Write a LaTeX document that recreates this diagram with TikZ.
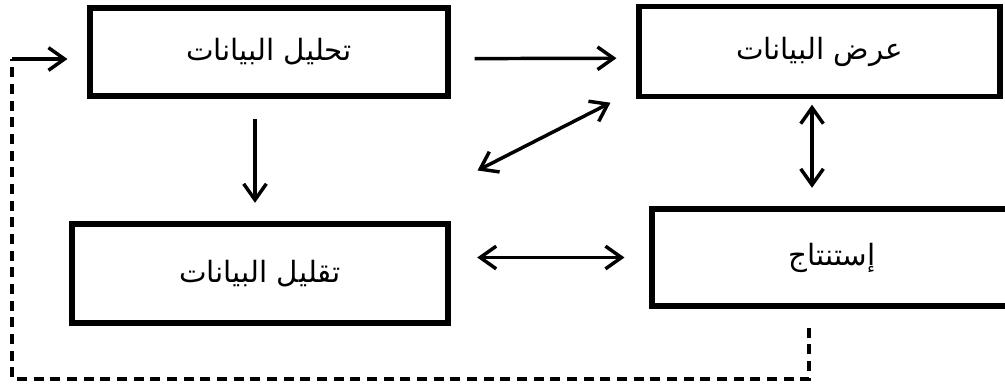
\documentclass[tikz,border=0pt]{standalone}
\usepackage{fontspec}
\usetikzlibrary{arrows.meta}
\newfontfamily\arabicfont[Script=Arabic]{DejaVu Sans}
\TeXXeTstate=1
\newcommand{\artext}[1]{{\arabicfont\beginR #1\endR}}

\begin{document}
\begin{tikzpicture}[x=0.75pt,y=-0.75pt,
    box/.style={draw,line width=3.8pt,inner sep=0pt,font=\fontsize{22}{26}\selectfont},
    arr/.style={line width=2.6pt,-{Straight Barb[length=12pt,width=17pt]}},
    dbl/.style={line width=2.6pt,{Straight Barb[length=12pt,width=17pt]}-{Straight Barb[length=12pt,width=17pt]}},
    fbdash/.style={line width=2.5pt,dash pattern=on 7.5pt off 5pt}]
    \useasboundingbox (0,0) rectangle (1005,383);
    \node[box,minimum width=268.5pt,minimum height=66pt] (tahlil) at (269,52) {\artext{تحليل البيانات}};
    \node[box,minimum width=270.75pt,minimum height=67pt] (ard) at (819.5,51.5) {\artext{عرض البيانات}};
    \node[box,minimum width=282pt,minimum height=74.25pt] (taqlil) at (260,273.5) {\artext{تقليل البيانات}};
    \node[box,minimum width=270pt,minimum height=72.75pt] (istintaj) at (832,257.5) {\artext{إستنتاج}};
    \draw[arr,shorten <=18pt,shorten >=15pt] ([yshift=-5pt]tahlil.east) -- ([yshift=-5pt]ard.west);
    \draw[arr,shorten <=15.5pt,shorten >=14pt] ([xshift=-10.5pt]tahlil.south) -- ([xshift=-10.5pt]tahlil.south |- taqlil.north);
    \draw[dbl] ([shift={(-26,4)}]ard.south west) -- ([shift={(27,-51)}]taqlil.north east);
    \draw[dbl,shorten <=4.5pt,shorten >=14pt] ([xshift=-5.6pt]ard.south) -- ([xshift=-5.6pt]ard.south |- istintaj.north);
    \draw[dbl,shorten <=18.75pt,shorten >=20pt] (istintaj.west) -- (istintaj.west -| taqlil.east);
    \coordinate (corner) at (12,379);
    \coordinate (back) at (12,59);
    \draw[fbdash] ([xshift=-17.25pt,yshift=-14.25pt]istintaj.south) |- (corner) -- (back);
    \draw[arr,shorten >=15pt] (back) -- (back -| tahlil.west);
\end{tikzpicture}
\end{document}
